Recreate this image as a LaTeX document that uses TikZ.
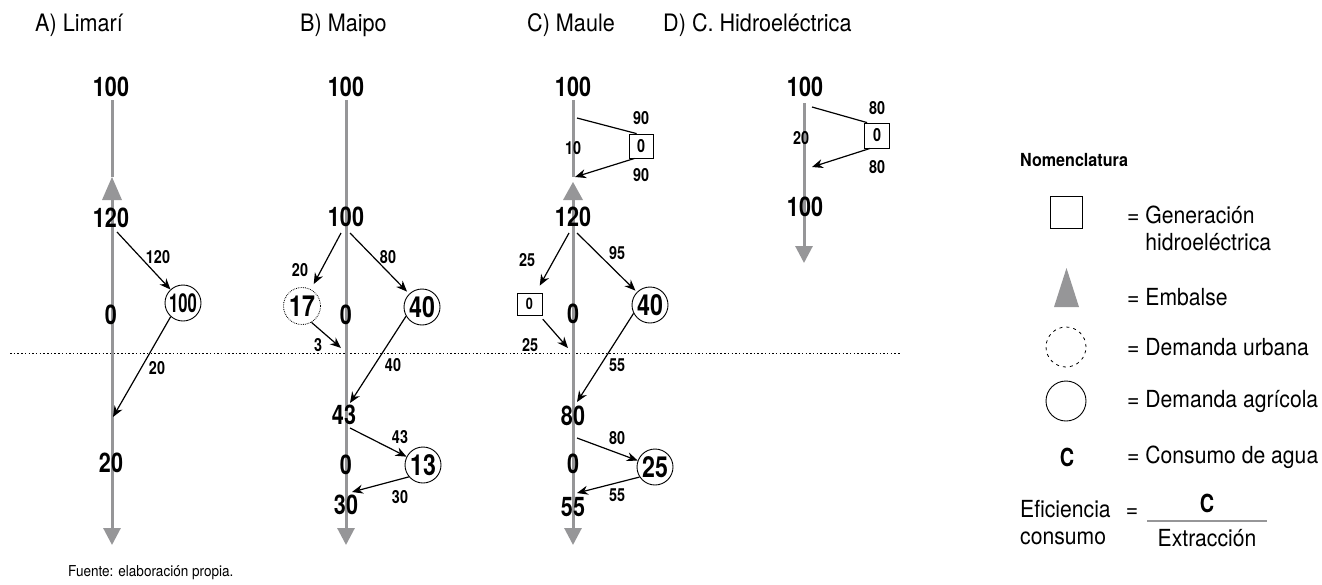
\documentclass[tikz,border=0pt]{standalone}
\usepackage{fontspec}
\usepackage{graphicx}
\setmainfont{TeX Gyre Heros}[FakeStretch=0.9]
\newfontfamily\cnd{TeX Gyre Heros}[FakeStretch=0.8]
\newfontfamily\cndx{TeX Gyre Heros}[FakeStretch=0.64]
\usetikzlibrary{arrows.meta,shapes.geometric}
\definecolor{axgray}{RGB}{150,150,152}
\newcommand\NumBig{\cnd\bfseries\fontsize{27}{30}\selectfont}
\newcommand\NumSmall{\cnd\bfseries\fontsize{18}{20}\selectfont}
\newcommand\NumMid{\cnd\bfseries\fontsize{29}{31}\selectfont}
\newcommand\NumCirc{\cndx\bfseries\fontsize{26}{28}\selectfont}
\newcommand\TitleFont{\fontsize{24}{27}\selectfont}
\newcommand\LegFont{\fontsize{23.5}{27}\selectfont}
\begin{document}
\begin{tikzpicture}[x=1pt,y=-1pt,
  title/.style={anchor=west,inner sep=0pt,font=\TitleFont},
  axnum/.style={inner sep=0pt,font=\NumBig},
  flow/.style={inner sep=0pt,font=\NumSmall},
  agr/.style={circle,draw,line width=0.9pt,minimum size=36pt,inner sep=0pt,font=\NumMid},
  urb/.style={circle,draw,line width=0.8pt,densely dotted,minimum size=37pt,inner sep=0pt,font=\NumMid},
  hyd/.style={rectangle,draw,line width=0.8pt,minimum size=24pt,inner sep=0pt,font=\NumSmall},
  arr/.style={draw,line width=1.2pt,-{Stealth[length=11pt,width=9pt]}},
  plain/.style={draw,line width=1.2pt},
  axis/.style={draw=axgray,line width=3pt},
  axisend/.style={draw=axgray,line width=3pt,-{Triangle[width=17pt,length=17pt,fill=axgray]}},
  leg/.style={anchor=west,inner sep=0pt,font=\LegFont}
]
\useasboundingbox (0,0) rectangle (1322,584);

% titles
\node[title] (tA) at (35,25) {A) Limarí};
\node[title] (tB) at (300,25) {B) Maipo};
\node[title] (tC) at (527,25) {C) Maule};
\node[title] (tD) at (663,25) {D) C. Hidroeléctrica};

% separation line
\coordinate (sepL) at (10,353);
\coordinate (sepR) at (900,353);
\draw[line width=1pt,dash pattern=on 1.5pt off 2.2pt] (sepL) -- (sepR);

% ---------------- Panel A
\coordinate (aTop) at (112,100);
\coordinate (aTri) at (112,177);
\coordinate (aMid) at (112,200);
\coordinate (aBot) at (112,545);
\draw[axis] (aTop) -- (aTri);
\fill[axgray] (102,200) -- (122,200) -- (112,177) -- cycle;
\draw[axisend] (aMid) -- (aBot);
\node[axnum] (a100) at (111,87) {100};
\node[axnum] (a120) at (111,218) {120};
\node[axnum] (a0) at (111,315) {0};
\node[axnum] (a20) at (111,463) {20};
\node[agr,font=\NumCirc] (aC) at (183,303) {100};
\coordinate (aS1) at (117,232);
\coordinate (aE1) at (113,417);
\draw[arr] (aS1) -- (aC);
\draw[arr] (aC.228) -- (aE1);
\node[flow] (aL1) at (158,257) {120};
\node[flow] (aL2) at (157,368) {20};

% ---------------- Panel B
\coordinate (bTop) at (346,100);
\coordinate (bBot) at (346,545);
\draw[axisend] (bTop) -- (bBot);
\node[axnum] (b100) at (346,87) {100};
\node[axnum] (b100b) at (346,217) {100};
\node[axnum] (b0a) at (346,315) {0};
\node[axnum] (b43) at (344,415) {43};
\node[axnum] (b0b) at (346,465) {0};
\node[axnum] (b30) at (346,505) {30};
\node[urb] (bU) at (302,306) {17};
\node[agr] (bA1) at (422,307) {40};
\node[agr] (bA2) at (423,465) {13};
\coordinate (bS1) at (341,233);
\coordinate (bE1) at (341,348);
\coordinate (bS2) at (350,233);
\coordinate (bE2) at (350,403);
\coordinate (bS3) at (350,428);
\coordinate (bE3) at (352,492);
\draw[arr,shorten >=6pt] (bS1) -- (bU);
\draw[arr] (bU.300) -- (bE1);
\draw[arr,shorten >=3pt] (bS2) -- (bA1);
\draw[arr] (bA1.210) -- (bE2);
\draw[arr] (bS3) -- (bA2);
\draw[arr] (bA2.220) -- (bE3);
\node[flow] (bL1) at (300,270) {20};
\node[flow] (bL2) at (318,345) {3};
\node[flow] (bL3) at (388,257) {80};
\node[flow] (bL4) at (393,365) {40};
\node[flow] (bL5) at (400,437) {43};
\node[flow] (bL6) at (400,497) {30};

% ---------------- Panel C
\coordinate (cTop) at (573,100);
\coordinate (cTri) at (573,177);
\coordinate (cMid) at (573,200);
\coordinate (cBot) at (573,545);
\draw[axis] (cTop) -- (cTri);
\fill[axgray] (563,200) -- (583,200) -- (573,182) -- cycle;
\draw[axisend] (cMid) -- (cBot);
\node[axnum] (c100) at (573,87) {100};
\node[axnum] (c120) at (573,217) {120};
\node[axnum] (c0a) at (573,314) {0};
\node[axnum] (c80) at (573,416) {80};
\node[axnum] (c0b) at (573,464) {0};
\node[axnum] (c55) at (573,507) {55};
\node[hyd] (cH1) at (641,146) {0};
\node[hyd,minimum width=25pt,minimum height=22pt] (cH2) at (529.5,304) {\scalebox{0.88}{0}};
\node[agr] (cA1) at (650,305) {40};
\node[agr] (cA2) at (655,467) {25};
\coordinate (cS0) at (577,118);
\coordinate (cE0) at (575,177);
\draw[plain] (cS0) -- ([xshift=8pt]cH1.north west);
\draw[arr] ([xshift=6pt]cH1.south west) -- (cE0);
\node[flow] (cL0) at (641,118) {90};
\node[flow] (cL0b) at (641,175) {90};
\node[flow] (cL0c) at (573,148) {10};
\coordinate (cS1) at (569,233);
\coordinate (cE1) at (568,348);
\coordinate (cS2) at (577,233);
\coordinate (cE2) at (577,402);
\coordinate (cS3) at (577,438);
\coordinate (cE3) at (577,493);
\draw[arr,shorten >=8pt] (cS1) -- (cH2);
\draw[arr,shorten <=5pt] (cH2) -- (cE1);
\draw[arr,shorten >=2pt] (cS2) -- (cA1);
\draw[arr] (cA1.207) -- (cE2);
\draw[arr] (cS3) -- (cA2);
\draw[arr] (cA2.213) -- (cE3);
\node[flow] (cL1) at (527,260) {25};
\node[flow] (cL2) at (530,345) {25};
\node[flow] (cL3) at (617,253) {95};
\node[flow] (cL4) at (617,365) {55};
\node[flow] (cL5) at (617,438) {80};
\node[flow] (cL6) at (617,495) {55};

% ---------------- Panel D
\coordinate (dTop) at (804,103);
\coordinate (dBot) at (804,263);
\draw[axisend] (dTop) -- (dBot);
\node[axnum] (d100) at (805,87) {100};
\node[axnum] (d100b) at (805,207) {100};
\node[hyd,minimum size=25pt] (dH) at (877,135.5) {0};
\coordinate (dS0) at (812,107);
\coordinate (dE0) at (812,167);
\draw[plain] (dS0) -- ([xshift=3pt]dH.north west);
\draw[arr] ([xshift=6pt]dH.south west) -- (dE0);
\node[flow] (dL1) at (877,108) {80};
\node[flow] (dL2) at (877,167) {80};
\node[flow] (dL3) at (801,138) {20};

% ---------------- Legend
\node[anchor=west,inner sep=0pt,font=\NumSmall] (nom) at (1020,160) {\scalebox{1.12}[1.0]{Nomenclatura}};
\node[draw,line width=0.9pt,minimum size=32pt,inner sep=0pt] (lSq) at (1066.5,212) {};
\node[leg,align=left,anchor=north west] (lGen) at (1127,206) {= Generación\\\hphantom{= }hidroeléctrica};
\fill[axgray] (1054,307) -- (1079,307) -- (1066.5,268) -- cycle;
\node[leg] (lEmb) at (1127,297) {= Embalse};
\node[circle,draw,line width=0.8pt,dash pattern=on 3pt off 4pt,minimum size=40pt,inner sep=0pt] (lUrb) at (1066,347) {};
\node[leg] (lUrbT) at (1127,347) {= Demanda urbana};
\node[circle,draw,line width=0.9pt,minimum size=40pt,inner sep=0pt] (lAgr) at (1066,401) {};
\node[leg] (lAgrT) at (1127,401) {= Demanda agrícola};
\node[inner sep=0pt,font=\NumBig] (lC) at (1067,457) {\scalebox{0.92}{C}};
\node[leg] (lCT) at (1127,457) {= Consumo de agua};
\node[leg,align=left] (lEf) at (1020,523) {Eficiencia\\consumo};
\node[inner sep=0pt,font=\LegFont] (lEq) at (1132,513) {=};
\node[inner sep=0pt,font=\NumBig] (lNum) at (1207,503) {\scalebox{0.92}{C}};
\node[inner sep=0pt,font=\LegFont] (lDen) at (1207,538) {Extracción};
\draw[axgray,line width=2pt] (1147,521) -- (1267,521);

% source
\node[anchor=west,inner sep=0pt,font=\LegFont] (src) at (68,573) {\scalebox{0.64}{Fuente: elaboración propia.}};
\end{tikzpicture}
\end{document}
